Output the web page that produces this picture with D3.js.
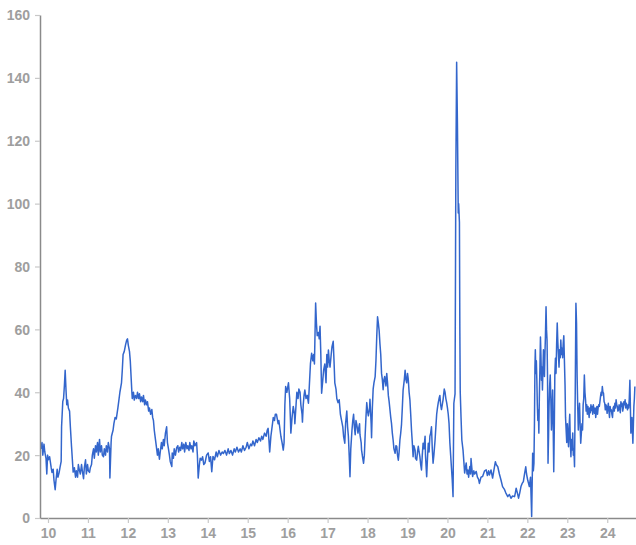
<!DOCTYPE html>
<html><head><meta charset="utf-8">
<script src="https://cdn.jsdelivr.net/npm/d3@7"></script>
<style>html,body{margin:0;padding:0;background:#fff;}svg{display:block;}</style>
</head><body><div id="chart"></div>
<script>
const xTicks = [10,11,12,13,14,15,16,17,18,19,20,21,22,23,24];
const yTicks = [0,20,40,60,80,100,120,140,160];
const years = [
9.82,9.85,9.87,9.90,9.92,9.95,9.97,9.99,10.01,10.04,10.08,10.10,10.13,10.15,10.18,10.20,10.23,10.25,10.28,10.30,
10.33,10.34,10.37,10.39,10.41,10.43,10.45,10.47,10.49,10.51,10.54,10.56,10.59,10.63,10.66,10.69,10.71,10.74,10.76,10.79,
10.81,10.84,10.86,10.89,10.91,10.94,10.96,10.99,11.01,11.04,11.06,11.09,11.11,11.14,11.16,11.19,11.21,11.24,11.26,11.29,
11.31,11.34,11.36,11.39,11.41,11.44,11.46,11.49,11.51,11.54,11.55,11.58,11.59,11.63,11.65,11.68,11.71,11.75,11.78,11.80,
11.84,11.86,11.88,11.91,11.94,11.97,11.99,12.01,12.04,12.06,12.10,
12.11,12.14,12.16,12.19,12.22,12.24,12.27,12.29,12.32,12.34,12.37,12.39,12.42,12.44,12.47,12.49,12.52,12.54,12.57,12.60,
12.62,12.64,12.66,12.69,12.71,12.74,12.76,12.79,12.81,12.84,12.86,12.89,12.91,12.94,12.97,12.99,13.01,13.04,13.06,13.10,
13.11,13.14,13.16,13.19,13.22,13.25,13.27,13.30,13.32,13.35,13.37,13.40,13.42,13.45,13.48,13.50,13.53,13.55,13.58,13.60,
13.63,13.65,13.68,13.72,13.74,13.76,13.79,13.81,13.84,13.87,13.90,13.93,13.97,14.01,14.04,14.07,14.10,14.13,14.17,14.21,
14.24,14.28,14.32,14.36,14.39,14.43,14.47,14.51,14.54,14.58,14.62,14.66,14.69,14.73,14.77,14.81,14.84,14.88,14.92,14.96,
14.99,15.03,15.07,15.10,15.13,15.17,15.21,15.24,15.28,15.32,15.35,15.38,15.42,15.46,15.49,15.51,15.53,15.55,15.58,15.61,
15.64,15.67,15.69,15.72,15.76,15.78,15.81,15.83,15.86,15.89,15.91,15.93,15.95,15.98,16.02,16.05,16.07,16.08,16.11,16.14,
16.17,16.18,16.21,16.23,16.26,16.28,16.31,16.33,16.36,16.37,16.39,16.41,16.43,16.46,16.49,16.52,16.55,16.57,16.60,16.63,
16.65,16.67,16.70,16.72,16.74,16.77,16.79,16.81,16.83,16.85,16.88,16.90,16.93,16.96,16.98,17.00,17.02,17.04,17.06,17.09,
17.11,17.14,17.16,17.18,17.21,17.23,17.26,17.29,17.32,17.35,17.38,17.40,17.43,17.45,17.48,17.50,17.52,17.54,17.56,17.58,
17.61,17.63,17.65,17.67,17.69,17.71,17.73,17.76,17.78,17.80,17.81,17.84,17.85,17.88,17.90,17.92,17.94,17.96,17.98,18.00,
18.02,18.05,18.06,18.09,18.10,18.12,18.14,18.16,18.19,18.21,18.23,18.25,18.27,18.29,18.31,18.33,18.35,18.37,18.39,18.41,
18.43,18.46,18.48,18.50,18.52,18.54,18.56,18.58,18.60,18.62,18.64,18.66,18.69,18.71,18.73,18.75,18.77,18.79,18.81,18.83,
18.85,18.87,18.89,18.92,18.94,18.96,18.98,19.00,19.02,19.04,19.06,19.08,19.10,19.12,19.14,19.16,19.19,19.20,19.23,19.25,
19.27,19.29,19.31,19.33,19.35,19.37,19.39,19.41,19.44,19.45,19.48,19.50,19.52,19.54,19.56,19.58,19.60,19.62,19.64,19.66,
19.69,19.71,19.73,19.75,19.77,19.79,19.81,19.83,19.85,19.87,19.89,19.92,19.94,19.96,19.98,20.00,20.02,20.04,20.06,20.08,
20.10,20.12,20.14,20.16,20.19,20.21,20.23,20.25,20.27,20.28,20.30,20.31,20.32,20.34,20.36,20.39,20.41,20.43,20.45,20.47,
20.49,20.51,20.53,20.56,20.58,20.59,20.61,20.63,20.66,20.68,20.72,20.75,20.78,20.80,20.84,20.88,20.93,20.97,21.00,21.03,
21.05,21.09,21.13,21.16,21.20,21.22,21.26,21.30,21.34,21.38,21.43,21.46,21.51,21.55,21.59,21.63,21.68,21.70,21.72,21.75,
21.78,21.81,21.84,21.87,21.90,21.93,21.96,21.98,22.01,22.03,22.05,22.08,
22.108,22.133,22.150,22.165,22.178,22.190,22.200,22.213,22.225,22.238,22.250,22.263,22.275,22.288,22.300,
22.315,22.328,22.340,22.353,22.365,22.378,22.390,22.403,22.415,22.428,22.440,22.453,22.468,22.480,22.493,
22.506,22.518,22.531,22.543,22.558,22.573,22.588,22.603,22.618,22.633,22.646,22.661,22.676,22.688,22.703,
22.718,22.733,22.748,22.763,22.778,22.793,22.808,22.823,22.838,22.853,22.868,22.883,22.898,22.913,22.928,
22.944,22.956,22.971,22.986,23.001,23.016,23.031,23.046,23.061,23.076,23.091,23.106,23.121,23.136,23.151,
23.166,23.181,23.199,23.216,23.231,23.246,23.261,23.276,23.291,23.306,23.321,23.336,23.352,23.367,23.382,
23.397,23.412,23.427,23.442,
23.457,23.472,23.487,23.502,23.517,23.532,23.547,23.562,23.577,23.592,23.607,23.622,23.637,23.652,23.667,
23.682,23.697,23.712,23.727,23.742,23.757,23.772,23.787,23.802,23.817,23.832,23.847,23.862,23.877,23.892,
23.907,23.922,23.937,23.952,23.967,23.982,23.997,24.012,24.027,24.042,24.057,24.072,24.087,24.102,24.117,
24.132,24.147,24.162,24.177,24.192,24.207,24.222,24.237,24.252,24.267,24.282,24.297,24.312,24.327,24.342,
24.357,24.372,24.387,24.402,24.417,24.432,24.447,24.462,24.477,24.492,24.507,24.522,24.537,24.552,24.567,
24.580,24.592,24.605,24.617,24.630,24.642,24.655,24.667,24.680,24.692
];
const values = [
22,24,20,23.5,21,19,14,20,18.5,19.5,16,14.5,15.5,12,9,12,15.5,13,14.5,16,
18,29,37,38,42,47,41,36,37.5,35,34,29,22.6,14.6,16,13,15,13,17,15,
14,17,15,12.5,16,18.5,14,17,15,14.5,16,17,20,22,19,23,21,24,20,25,
21,23,20,19.5,22,20,23,21,24,22,12.7,24,26,28,30,32,31.5,35,38,40,
43,47,52,53,55,56.6,57,55,53,50,40,
38,40,37.5,39,38,40,38,39.5,37,38.5,37,39,36,37.5,36,37,34,35,33,34.5,
32,31,28,25,23,20,22,18.7,21,24,22,25,23,27,29,24,22.5,20,18,16.4,
20.7,19,22,20,22.3,23,21,22.5,21.5,24,22,23.5,21,24,22,23,21.5,24,22,23,
21,24.5,23,24,20,12.7,17,19,18.4,19.5,17,17.5,20,20.7,18,19.5,14.7,19.6,18.5,21,
19.5,21.5,20,21,20.5,21.5,20,22,20.5,21.5,20,22,21,22.5,21,22,21,23,21.5,22.5,
24,22,23.5,23,24.5,23,25,24,25.5,24.5,26,25,27,26,28,28.5,25,21,26,29,
32,31,33,33,30,31,28,26,24,21.6,24,36,41.8,40,43,38,31,27,32,35.5,
33,30,36,40,38,41,40,36,33,30.5,36,39,40.7,38,39,36.5,44,49,52.4,50,
52,49,68.4,62,58,59,57,61,52,39.7,44,47,49,43,52,48,53.4,50,48,52,
54.5,56.2,50,43,41,38,36.7,37.6,33,31,29,26,23.8,30,34,29,26,20,13.1,22,
28,31,33,29,26.5,31,29.8,27,28.7,30,26.5,24,21.6,19,17.4,20,26.5,32,36.7,34,
32.5,35,37.8,30,25.5,35,41,43,45,50,57.7,64,62,59.6,55.4,52,46,44,40.8,44,
45,42,46,43,39,37,34.5,32,30,27,24.8,22,20.6,23,22.8,20,18.4,21,24.8,27,
29.8,35,40.7,44,47,44,43,46,44,40,37.6,33,28,24,19.5,23,21.6,19,18.4,21,
22.8,21,19.5,17,15.3,20,23.8,22,26,20,13.1,19,23.8,21,26,27,29,22,17.4,20,
24.8,29,33,35,36.7,38,39,36,34.5,36,37.6,41,40,38,36.7,35,33,30,24,20,
16,12,6.8,36.5,39.5,110,145,125,97,100,94,60,40,32,24.8,21.6,18,14.3,16,17.5,
14,15.3,13,16.4,14,18.9,16,13.2,15,14,14.8,13,12.3,11,13,13.2,15,15.3,13.5,15,
13.7,15.3,12.7,15,17.9,17,16.3,14,12.1,10,9,8,6.8,7.5,6.3,7,6.8,8,9.5,8,
6.3,8,10,11,11.6,14,16.3,14,12,11,10,13,
0.5,20.6,15,17.4,30,48,53.5,46,50,43.8,36,31,34.2,27,38,
48,57.6,52,43.8,48,40.7,47,53.5,49,45,52,58,67.2,60,56.6,
44,17.4,26,35.5,42,45.5,38,28,34,40.7,30,14.7,30,45.5,50.8,
46,55,62,56,52,48,53.5,51,56.6,52,54,51,55.5,58,50,
42,32,28,24,30,26,22.7,29,33,24,19.5,25,21.6,27,20,
22,16.3,40,68.3,62,45,35.5,28,33,36.5,30,23.8,27,30,28,
36,38,45.5,40,
37.6,34,36,33,35.5,34,32,35,33.5,36,34.2,35.5,33,36,34.5,
33.3,35,32,34,35.5,33,35,36,35.5,37,38.7,40,39,41.8,40,
39.7,37,36.5,34.4,36,35.5,33.3,35,36.5,34,32,35.5,34,34.4,33,
32,35,35.5,34,36.5,35,37.6,36,35.5,34,34.4,36,35,33.5,37,
35.5,36.5,34,35,37,36,37.6,35,36.5,35.5,34.4,36,35,38,43.8,
35,27,30,32,28,23.8,30,35.5,38,41.8
];

const W = 636, H = 545;
const margin = {top: 15, right: 0, bottom: 27, left: 40};
const svg = d3.select("#chart").append("svg").attr("width", W).attr("height", H);

const x = d3.scaleLinear().domain([9.8, 24.72]).range([margin.left, W - margin.right]);
const y = d3.scaleLinear().domain([0, 160]).range([H - margin.bottom, margin.top]);

const data = years.map((yr, i) => ({yr, v: values[i]}));

const axisColor = "#8a8a8a";
const labelColor = "#9e9e9e";
const font = "Liberation Sans, Arial, sans-serif";

const line = d3.line().x(d => x(d.yr)).y(d => y(d.v));
svg.append("path").datum(data)
  .attr("fill", "none").attr("stroke", "#3366cc").attr("stroke-width", 1.5)
  .attr("stroke-linejoin", "round")
  .attr("d", line);

const yAxis = svg.append("g").attr("transform", `translate(${margin.left},0)`)
  .call(d3.axisLeft(y).tickValues(yTicks).tickSize(5).tickPadding(5).tickSizeOuter(0));
const xAxis = svg.append("g").attr("transform", `translate(0,${H - margin.bottom})`)
  .call(d3.axisBottom(x).tickValues(xTicks).tickSize(5).tickPadding(5).tickSizeOuter(0));

[yAxis, xAxis].forEach(g => {
  g.select(".domain").attr("stroke", axisColor).attr("stroke-width", 1.5);
  g.selectAll(".tick line").attr("stroke", "#c8c8c8").attr("stroke-width", 1.2);
  g.selectAll(".tick text").attr("fill", labelColor)
    .style("font-family", font).style("font-size", "14px").style("font-weight", "bold");
});
yAxis.selectAll(".tick text").attr("dy", "0.35em");
xAxis.selectAll(".tick text").attr("dy", "0.71em");
</script></body></html>
